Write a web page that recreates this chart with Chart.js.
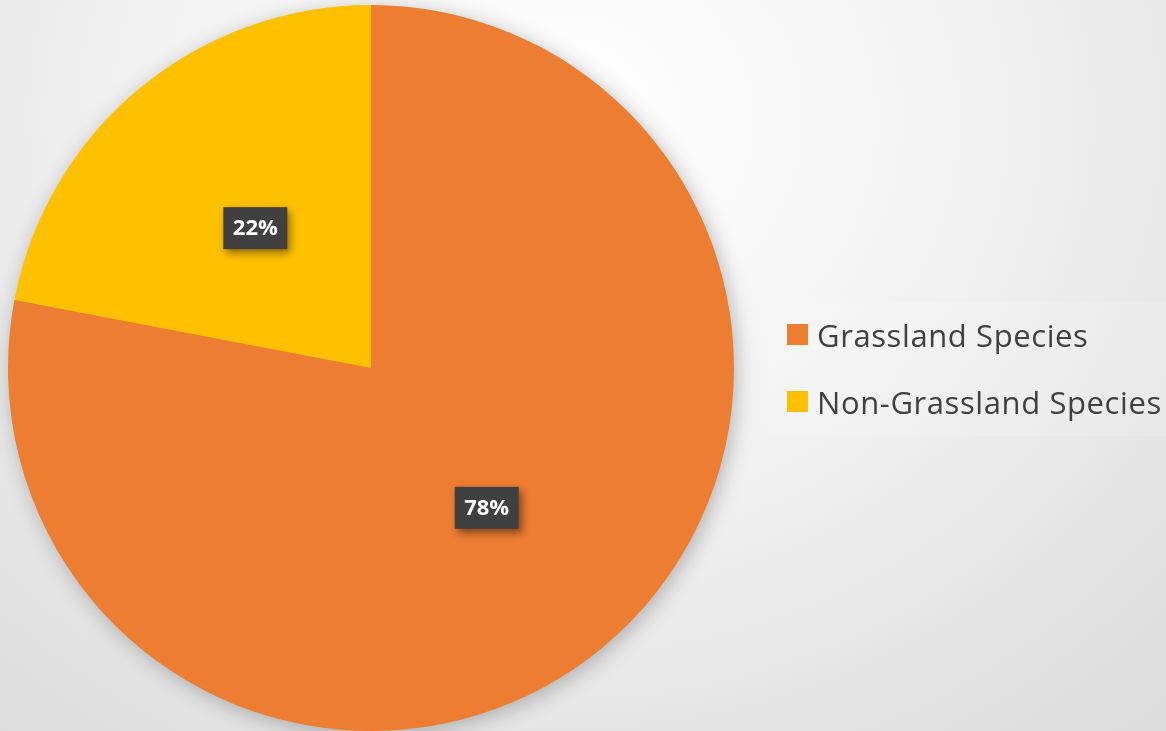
<!DOCTYPE html>
<html>
<head>
<meta charset="utf-8">
<script src="https://cdn.jsdelivr.net/npm/chart.js@4"></script>
<style>
html,body{margin:0;padding:0;width:1166px;height:731px;overflow:hidden;}
body{background:radial-gradient(ellipse 900px 800px at 560px 120px,#ffffff 0%,#f4f4f4 40%,#e2e2e2 85%,#dcdcdc 100%);}
#c{display:block;}
</style>
</head>
<body>
<canvas id="c" width="1166" height="731"></canvas>
<script>
const categories = ["Grassland Species", "Non-Grassland Species"];
const values = [78, 22];
const valueLabels = ["78%", "22%"];
const colors = ["#ED7D31", "#FFC000"];

const pieShadow = {
  id: 'pieShadow',
  beforeDatasetsDraw(chart) {
    const arc = chart.getDatasetMeta(0).data[0];
    const ctx = chart.ctx;
    ctx.save();
    ctx.shadowColor = 'rgba(0,0,0,0.28)';
    ctx.shadowBlur = 22;
    ctx.shadowOffsetX = 3;
    ctx.shadowOffsetY = 4;
    ctx.beginPath();
    ctx.arc(arc.x, arc.y, arc.outerRadius - 1, 0, Math.PI * 2);
    ctx.fillStyle = colors[0];
    ctx.fill();
    ctx.restore();
  }
};

const boxLabels = {
  id: 'boxLabels',
  afterDatasetsDraw(chart) {
    const ctx = chart.ctx;
    const meta = chart.getDatasetMeta(0);
    meta.data.forEach((arc, i) => {
      const p = arc.tooltipPosition();
      const w = 64, h = 42;
      ctx.save();
      ctx.shadowColor = 'rgba(0,0,0,0.45)';
      ctx.shadowBlur = 8;
      ctx.shadowOffsetX = 3;
      ctx.shadowOffsetY = 4;
      ctx.fillStyle = '#404040';
      ctx.fillRect(p.x - w / 2, p.y - h / 2, w, h);
      ctx.restore();
      ctx.save();
      ctx.fillStyle = '#ffffff';
      ctx.font = 'bold 22px "Open Sans", sans-serif';
      ctx.textAlign = 'center';
      ctx.textBaseline = 'middle';
      ctx.fillText(valueLabels[i], p.x, p.y + 1);
      ctx.restore();
    });
  }
};

const sideLegend = {
  id: 'sideLegend',
  afterDraw(chart) {
    const ctx = chart.ctx;
    ctx.save();
    ctx.fillStyle = 'rgba(255,255,255,0.15)';
    ctx.fillRect(768, 302, 398, 134);
    ctx.restore();
    const x0 = 787, y0 = 324, gap = 67;
    chart.data.labels.forEach((lab, i) => {
      const y = y0 + i * gap;
      ctx.save();
      ctx.fillStyle = chart.data.datasets[0].backgroundColor[i];
      ctx.fillRect(x0, y, 21, 21);
      ctx.fillStyle = '#404040';
      ctx.font = '31px "Open Sans", sans-serif';
      if ('letterSpacing' in ctx) ctx.letterSpacing = '0.6px';
      ctx.textAlign = 'left';
      ctx.textBaseline = 'alphabetic';
      ctx.fillText(lab, x0 + 30, y + 23);
      ctx.restore();
    });
  }
};

new Chart(document.getElementById('c'), {
  type: 'pie',
  data: {
    labels: categories,
    datasets: [{
      data: values,
      backgroundColor: colors,
      borderWidth: 0,
      hoverOffset: 0
    }]
  },
  options: {
    responsive: false,
    animation: false,
    devicePixelRatio: 1,
    layout: { padding: { left: 8, top: 5, right: 432, bottom: 0 } },
    plugins: {
      legend: { display: false },
      tooltip: { enabled: false }
    }
  },
  plugins: [pieShadow, boxLabels, sideLegend]
});
</script>
</body>
</html>
